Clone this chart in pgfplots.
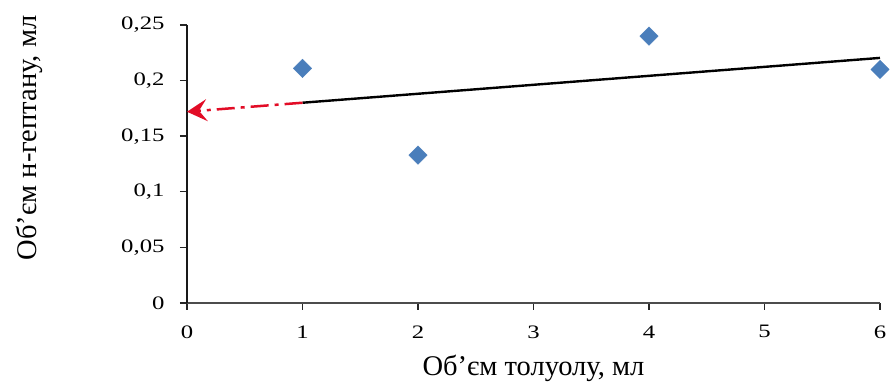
\documentclass[border=0pt]{standalone}
\usepackage{pgfplots}
\pgfplotsset{compat=1.18}
\usepackage{fontspec}
\setmainfont{Liberation Serif}
\newfontfamily\tickfont{Liberation Serif}[FakeStretch=1.3]
\usetikzlibrary{arrows.meta}
\definecolor{markblue}{RGB}{74,126,187}
\definecolor{arrowred}{RGB}{226,12,38}

\begin{document}
\begin{tikzpicture}
\useasboundingbox (-187pt,-84pt) rectangle (704pt,303pt);
\begin{axis}[
  scale only axis, width=693pt, height=278pt,
  xmin=0, xmax=6, ymin=0, ymax=0.25,
  axis lines=left,
  x axis line style={-, line width=2.6pt, black!70},
  y axis line style={-, line width=1.8pt, black!90},
  xtick={0,1,2,3,4,5,6},
  ytick={0,0.05,0.1,0.15,0.2,0.25},
  yticklabels={0,{0,05},{0,1},{0,15},{0,2},{0,25}},
  tick align=outside,
  major tick length=7pt,
  tick style={line width=1.4pt, black!85},
  font=\fontsize{28.5}{32}\selectfont,
  tick label style={font=\tickfont\fontsize{19}{22}\selectfont},
  /pgf/number format/assume math mode=true,
  xticklabel style={yshift=-12pt},
  yticklabel style={xshift=-12pt},
  xlabel={Об'єм толуолу, мл},
  ylabel={Об'єм н-гептану, мл},
  xlabel style={at={(rel axis cs:0.5,-0.235)}, anchor=center},
  ylabel style={at={(rel axis cs:-0.227,0.594)}, anchor=center},
  clip=false,
]
% linear trend fitted through the four measurements
\addplot[black, line width=2.4pt] coordinates {(1,0.1801) (6,0.2204)};
% extrapolation of the trend back to zero toluene
\addplot[arrowred, line width=2.5pt, dash pattern=on 18pt off 6pt on 4pt off 6pt,
  -{Stealth[length=20pt,width=22pt,inset=8pt]}] coordinates {(1,0.1801) (0,0.1720)};
% measured points
\addplot[only marks, mark=square*, mark size=6.5pt, mark options={rotate=45}, color=markblue] coordinates {
  (1,0.211) (2,0.133) (4,0.240) (6,0.210)
};
\end{axis}
\end{tikzpicture}
\end{document}
